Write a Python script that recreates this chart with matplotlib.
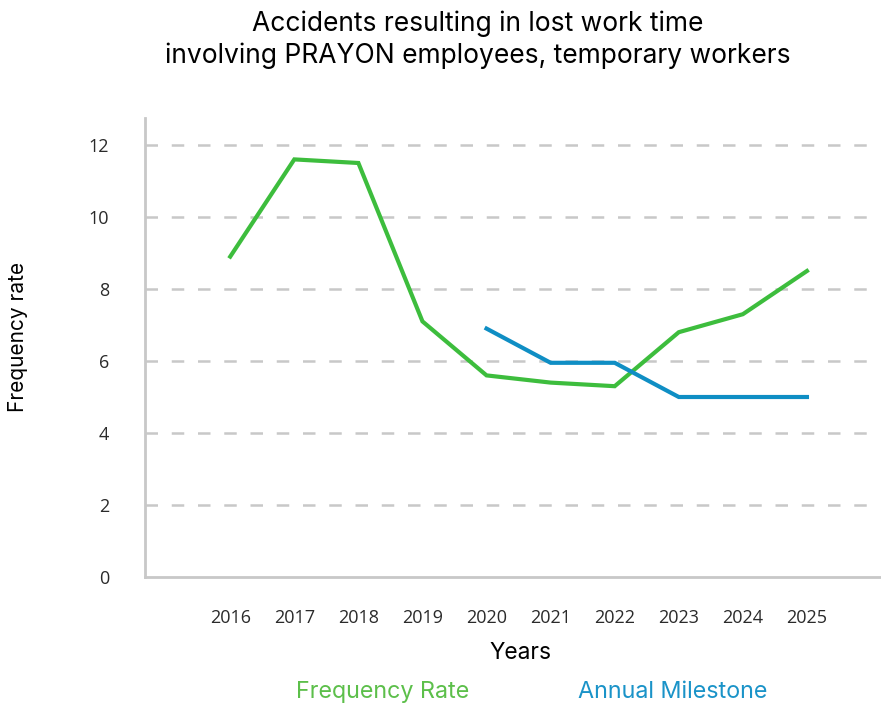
import numpy as np
import matplotlib.pyplot as plt

# data
years = [2016, 2017, 2018, 2019, 2020, 2021, 2022, 2023, 2024, 2025]
freq_rate = [8.9, 11.6, 11.5, 7.1, 5.6, 5.4, 5.3, 6.8, 7.3, 8.5]
milestone_years = [2020, 2021, 2022, 2023, 2024, 2025]
milestone = [6.9, 5.95, 5.95, 5.0, 5.0, 5.0]
y_ticks = [0, 2, 4, 6, 8, 10, 12]

green = '#3dbd3d'
blue = '#0f8ec4'
grey = '#c8c8c8'

fig = plt.figure(figsize=(8.81, 7.06), dpi=100)
ax = fig.add_axes([145/881, 1 - 577/706, 735/881, 459/706])

for y in y_ticks[1:]:
    ax.axhline(y, xmax=0.985, color=grey, lw=1.8, dashes=(5, 5.5), zorder=1)

ax.plot(years, freq_rate, color=green, lw=3, zorder=3, solid_joinstyle='miter')
ax.plot(milestone_years, milestone, color=blue, lw=3, zorder=3, solid_joinstyle='miter')

ax.set_xlim(2014.67, 2026.14)
ax.set_ylim(0, 12.75)
ax.set_xticks(years)
ax.set_yticks(y_ticks)
ax.tick_params(length=0, labelsize=13, labelcolor='#2a2a2a')
ax.tick_params(axis='x', pad=23)
ax.tick_params(axis='y', pad=26)
for lbl in ax.get_xticklabels() + ax.get_yticklabels():
    lbl.set_fontfamily('Open Sans')

for s in ['top', 'right']:
    ax.spines[s].set_visible(False)
for s in ['left', 'bottom']:
    ax.spines[s].set_color(grey)
    ax.spines[s].set_linewidth(2)

fig.text(478/881, 1 - 40/706, 'Accidents resulting in lost work time\ninvolving PRAYON employees, temporary workers',
         ha='center', va='center', fontsize=19, family='Inter', linespacing=1.25)
fig.text(18/881, 1 - 337/706, 'Frequency rate', rotation=90, ha='center', va='center',
         fontsize=15, family='Inter')
fig.text(520/881, 1 - 653/706, 'Years', ha='center', va='center', fontsize=16.4, family='Inter')
fig.text(383/881, 1 - 692/706, 'Frequency Rate', ha='center', va='center', fontsize=16.8,
         family='Inter', color='#5cbf4a')
fig.text(673/881, 1 - 692/706, 'Annual Milestone', ha='center', va='center', fontsize=16.8,
         family='Inter', color='#1a93c8')

fig.savefig('out.png', dpi=100)
